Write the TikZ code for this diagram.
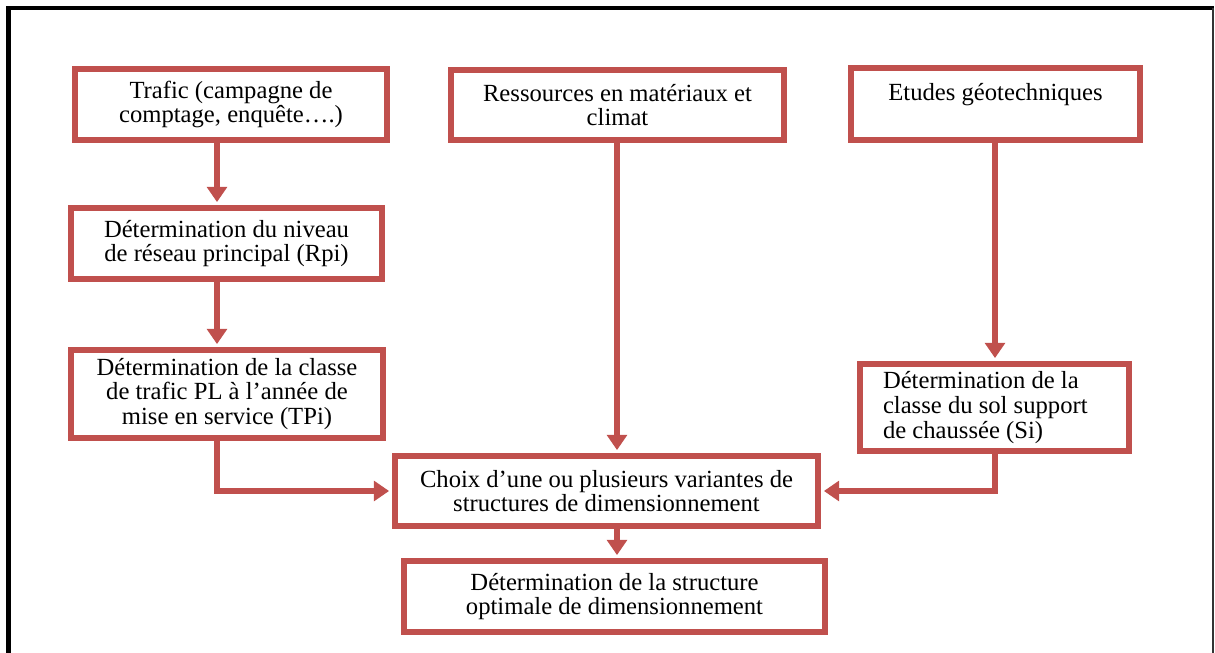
\documentclass[tikz,border=0pt]{standalone}
\usepackage{fontspec}
\setmainfont{Liberation Serif}
\usetikzlibrary{arrows.meta,calc}
\definecolor{boxred}{HTML}{C0504D}
\def\u{0.56pt}
\begin{document}
\begin{tikzpicture}[x=0.56pt,y=-0.56pt,
  box/.style={draw=boxred, line width=3.4pt, fill=white, align=center, inner sep=1pt,
    font=\fontsize{13.8}{13.8}\selectfont},
  arr/.style={draw=boxred, line width=3.4pt, -{Triangle[length=8.5pt,width=11pt]}, shorten >=1.6pt},
  frame/.style={draw=black}]
\useasboundingbox (0,0) rectangle (1215,653);
% frame
\draw[frame, line width=2.8pt] (8.5,653) -- (8.5,8);
\draw[frame, line width=2.2pt] (6,8) -- (1214,8);
\draw[draw=black!80, line width=1pt] (1213,8) -- (1213,653);
% boxes
\node[box, minimum width={312*\u}, minimum height={71*\u}] (t) at (231,104.5)
  {Trafic (campagne de\\comptage, enquête….)};
\node[box, minimum width={333*\u}, minimum height={70*\u}] (res) at (617.5,105)
  {Ressources en matériaux et\\climat};
\node[box, minimum width={289*\u}, minimum height={72*\u}] (e) at (995.5,104)
  {Etudes géotechniques\\\mbox{}};
\node[box, minimum width={311*\u}, minimum height={71*\u}] (r) at (226.5,243.5)
  {Détermination du niveau\\de réseau principal (Rpi)};
\node[box, minimum width={312*\u}, minimum height={88*\u}] (tp) at (227,394)
  {Détermination de la classe\\de trafic PL à l’année de\\mise en service (TPi)};
\node[box, minimum width={269*\u}, minimum height={87*\u}, text width={223*\u}, align=flush left] (s) at (994.5,407.5)
  {Détermination de la\\classe du sol support\\de chaussée (Si)};
\node[box, minimum width={423*\u}, minimum height={70*\u}] (c) at (606.5,491)
  {Choix d’une ou plusieurs variantes de\\structures de dimensionnement};
\node[box, minimum width={421*\u}, minimum height={71*\u}] (f) at (614.5,596.5)
  {Détermination de la structure\\optimale de dimensionnement};
% columns
\coordinate (c1) at (217,0);
\coordinate (c2) at (617,0);
\coordinate (c3) at (995,0);
% connectors
\draw[arr] (t.south -| c1) -- (r.north -| c1);
\draw[arr] (r.south -| c1) -- (tp.north -| c1);
\draw[arr] (tp.south -| c1) |- (c.west);
\draw[arr] (res.south -| c2) -- (c.north -| c2);
\draw[arr] (e.south -| c3) -- (s.north -| c3);
\draw[arr] (s.south -| c3) |- (c.east);
\draw[arr] (c.south -| c2) -- (f.north -| c2);
\end{tikzpicture}
\end{document}
